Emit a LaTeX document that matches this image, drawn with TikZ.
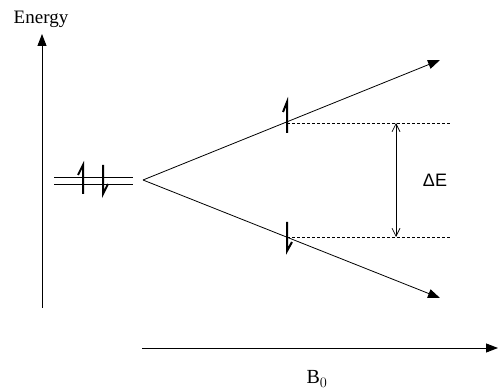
\documentclass[tikz,border=0pt]{standalone}
\usepackage{fontspec}
\setmainfont{Liberation Serif}
\newfontfamily\arialfont{Liberation Sans}
\usetikzlibrary{arrows.meta}
\begin{document}
\begin{tikzpicture}[x=1pt,y=-1pt,
  axis/.style={line width=0.9pt,-{Triangle[length=12pt,width=9pt]}},
  level/.style={line width=0.9pt},
  split/.style={line width=0.8pt,-{Triangle[length=12pt,width=9pt]}},
  guide/.style={line width=0.7pt,dash pattern=on 3pt off 2pt},
  spin/.style={line width=2pt},
  gap/.style={line width=0.7pt,{Straight Barb[length=8pt,width=8pt]}-{Straight Barb[length=8pt,width=8pt]}}]
\useasboundingbox (0,0) rectangle (499,390);
% axes
\coordinate (ybot) at (42,308);
\coordinate (ytop) at (42,34);
\draw[axis] (ybot) -- (ytop);
\node (energy) at (41,19) {\fontsize{19}{22}\selectfont Energy};
\coordinate (xl) at (142,348);
\coordinate (xr) at (498,348);
\draw[axis] (xl) -- (xr);
\node (b0) at (317,379) {\fontsize{20}{24}\selectfont B$_0$};
% degenerate level
\coordinate (l1a) at (54,177);
\coordinate (l1b) at (133,177);
\coordinate (l2a) at (54,184);
\coordinate (l2b) at (133,184);
\draw[level] (l1a) -- (l1b);
\draw[level] (l2a) -- (l2b);
% spins on degenerate level
\draw[spin] (83,194) -- (83,165) -- (78,175);
\draw[spin] (103,165) -- (103,194) -- (108,184);
% splitting
\coordinate (apex) at (143,180);
\coordinate (upend) at (440,60);
\coordinate (lowend) at (440,298);
\draw[split] (apex) -- (upend);
\draw[split] (apex) -- (lowend);
% guides
\coordinate (ua) at (287,123);
\coordinate (ub) at (451,123);
\coordinate (la) at (287,237);
\coordinate (lb) at (451,237);
\draw[guide] (ua) -- (ub);
\draw[guide] (la) -- (lb);
% spins on split levels
\draw[spin] (287,133) -- (287,102) -- (283,112);
\draw[spin] (287,222) -- (287,251) -- (292,242);
% energy gap
\coordinate (gt) at (396,123);
\coordinate (gb) at (396,237);
\draw[gap] (gt) -- (gb);
\node (de) at (435,180) {\arialfont\fontsize{18}{22}\selectfont ΔE};
\end{tikzpicture}
\end{document}
